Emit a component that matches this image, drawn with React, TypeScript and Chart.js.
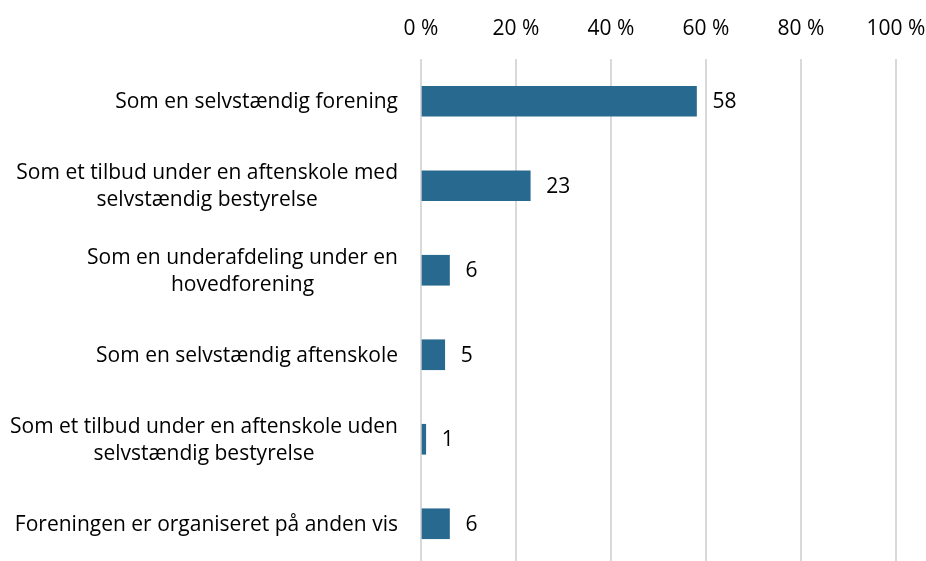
import React, { useEffect, useRef } from "react";
import { Chart, registerables } from "chart.js";

Chart.register(...registerables);

const categories: (string | string[])[] = [
  "Som en selvstændig forening",
  ["Som et tilbud under en aftenskole med", "selvstændig bestyrelse"],
  ["Som en underafdeling under en", "hovedforening"],
  "Som en selvstændig aftenskole",
  ["Som et tilbud under en aftenskole uden", "selvstændig bestyrelse"],
  "Foreningen er organiseret på anden vis",
];
const values = [58, 23, 6, 5, 1, 6];
const valueLabels = ["58", "23", "6", "5", "1", "6"];
const xTicks = [0, 20, 40, 60, 80, 100];

const FONT_FAMILY = "'Open Sans', 'Noto Sans', sans-serif";
const FONT_SIZE = 21;
const BAR_COLOR = "#28698f";

const labelsPlugin = {
  id: "customLabels",
  afterDatasetsDraw(chart: any) {
    const ctx = chart.ctx;
    const yScale = chart.scales.y;
    const area = chart.chartArea;
    ctx.save();
    ctx.font = `${FONT_SIZE}px ${FONT_FAMILY}`;
    ctx.fillStyle = "#000";
    ctx.textBaseline = "middle";
    const lh = 27;
    categories.forEach((cat, i) => {
      const lines = Array.isArray(cat) ? cat : [cat];
      const yc = yScale.getPixelForValue(i) + 1;
      const maxW = Math.max(...lines.map((l) => ctx.measureText(l).width));
      const right = area.left - 23;
      const cx = right - maxW / 2;
      ctx.textAlign = "center";
      lines.forEach((l, j) => {
        const y = yc + (j - (lines.length - 1) / 2) * lh;
        ctx.fillText(l, cx, y);
      });
    });
    const meta = chart.getDatasetMeta(0);
    ctx.textAlign = "left";
    meta.data.forEach((bar: any, i: number) => {
      ctx.fillText(valueLabels[i], bar.x + 16, bar.y + 1);
    });
    ctx.restore();
  },
};

export default function App() {
  const ref = useRef<HTMLCanvasElement | null>(null);
  useEffect(() => {
    document.body.style.margin = "0";
    if (!ref.current) return;
    const chart = new Chart(ref.current, {
      type: "bar",
      data: {
        labels: categories as any,
        datasets: [
          {
            data: values,
            backgroundColor: BAR_COLOR,
            borderWidth: 0,
            barThickness: 30,
          },
        ],
      },
      options: {
        indexAxis: "y",
        animation: false,
        responsive: false,
        layout: { padding: { left: 0, right: 30, top: 0, bottom: 0 } },
        plugins: { legend: { display: false }, tooltip: { enabled: false } },
        scales: {
          x: {
            position: "top",
            min: 0,
            max: 100,
            afterBuildTicks(scale: any) {
              scale.ticks = xTicks.map((v) => ({ value: v }));
            },
            afterFit(scale: any) {
              scale.height = 59;
              scale.paddingRight = 0;
              scale.paddingLeft = 0;
            },
            ticks: {
              padding: 17,
              color: "#000",
              font: { family: FONT_FAMILY, size: FONT_SIZE },
              callback: (v: any) => `${v} %`,
              maxRotation: 0,
            },
            grid: { color: "#d9d9d9", lineWidth: 2, drawTicks: false },
            border: { display: false },
          },
          y: {
            ticks: { display: false },
            grid: { display: false },
            border: { display: false },
            afterFit(scale: any) {
              scale.width = 421;
            },
          },
        },
      },
      plugins: [labelsPlugin],
    });
    return () => chart.destroy();
  }, []);
  return (
    <div style={{ width: 926, height: 566 }}>
      <canvas ref={ref} width={926} height={566} style={{ display: "block" }} />
    </div>
  );
}
